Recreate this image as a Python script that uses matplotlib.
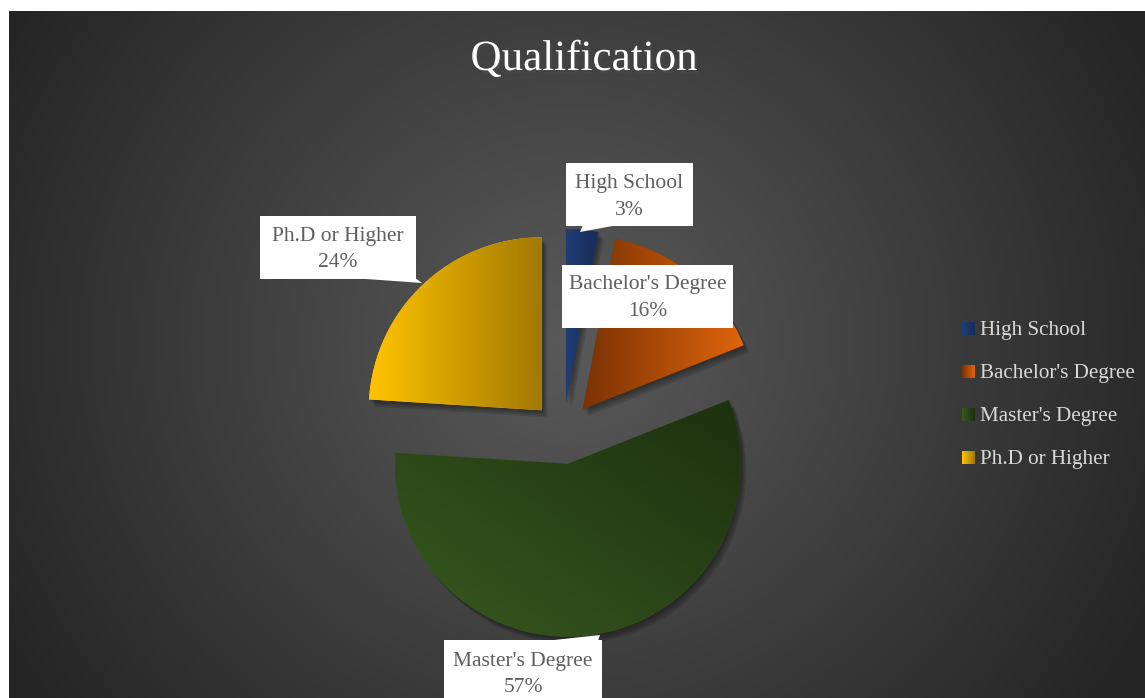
import numpy as np
import matplotlib
matplotlib.use("Agg")
import matplotlib.pyplot as plt
import matplotlib.patheffects as pe
from matplotlib.patches import Rectangle, Polygon
from matplotlib.colors import to_rgb

# ---- data ----
categories = ["High School", "Bachelor's Degree", "Master's Degree", "Ph.D or Higher"]
shares = [3, 16, 57, 24]
title = "Qualification"

# gradient end colours per slice (start, end) and gradient direction (dx, dy)
grad_start = ["#203d74", "#7a3204", "#38591f", "#ffc400"]
grad_end = ["#172c58", "#e0650c", "#1c300f", "#a27800"]
grad_dir = [(1, 0), (1, 0), (1, 1), (1, 0)]

W, H = 1145, 698
FONT = "Liberation Serif"

fig = plt.figure(figsize=(W / 100, H / 100), dpi=100)
fig.patch.set_facecolor("white")

# ---- background panel with a radial gradient (pixel coordinates) ----
bg = fig.add_axes([0, 0, 1, 1], zorder=0)
bg.set_xlim(0, W)
bg.set_ylim(H, 0)
bg.axis("off")
x0, y0 = 9, 11
yy, xx = np.mgrid[y0:H, x0:W]
d = np.hypot(xx - 570, (yy - 340) * 1.05) / 650.0
d = np.clip(d, 0, 1)
g = (0x5a - d * (0x5a - 0x25)) / 255.0
bg.imshow(np.dstack([g, g, g]), extent=(x0, W, H, y0), interpolation="bilinear",
          aspect="auto")

# ---- pie ----
cx, cy, R = 563, 433, 173  # centre and radius in pixels
half = 262
pie_ax = fig.add_axes([(cx - half) / W, (H - cy - half) / H, 2 * half / W, 2 * half / H],
                      zorder=1)
pie_ax.set_xlim(-half / R, half / R)
pie_ax.set_ylim(-half / R, half / R)
pie_ax.axis("off")
pie_ax.patch.set_alpha(0)

wedges, _ = pie_ax.pie(shares, radius=1, startangle=90, counterclock=False,
                       explode=[0.18] * len(shares),
                       colors=grad_start,
                       wedgeprops=dict(linewidth=0))

# soft drop shadow built from a few faint offset copies
soft_shadow = [pe.SimplePatchShadow(offset=(o, -o * 1.3), shadow_rgbFace="black",
                                    alpha=0.11) for o in (1, 2, 3, 4)]
for w, c0, c1, (dx, dy) in zip(wedges, grad_start, grad_end, grad_dir):
    w.set_path_effects(soft_shadow + [pe.Normal()])
    ext = w.get_path().get_extents()
    n = 200
    gx, gy = np.meshgrid(np.linspace(0, 1, n), np.linspace(0, 1, n))
    t = (gx * dx + gy * dy) / (abs(dx) + abs(dy))
    a, b = np.array(to_rgb(c0)), np.array(to_rgb(c1))
    img = a[None, None, :] + t[..., None] * (b - a)[None, None, :]
    im = pie_ax.imshow(img, extent=(ext.x0, ext.x1, ext.y0, ext.y1), origin="lower",
                       interpolation="bilinear", zorder=w.get_zorder() + 0.1)
    im.set_clip_path(w)
pie_ax.set_xlim(-half / R, half / R)
pie_ax.set_ylim(-half / R, half / R)

# ---- overlay in pixel coordinates: title, callouts, legend ----
ov = fig.add_axes([0, 0, 1, 1], zorder=2)
ov.set_xlim(0, W)
ov.set_ylim(H, 0)
ov.axis("off")
ov.patch.set_alpha(0)

ov.text(584, 70, title, ha="center", va="baseline", fontsize=31, family=FONT,
        color="white",
        path_effects=[pe.withSimplePatchShadow(offset=(1.5, -2), alpha=0.5)])

# callout boxes: (left, top, right, bottom), baselines of the two lines, pointer
boxes = [
    ((566, 163, 693, 226), (188, 215), [(583, 225), (618, 225), (580, 232)]),
    ((562, 265, 733, 328), (289, 316), None),
    ((444, 640, 602, 720), (666, 692), [(545, 641), (598, 641), (600, 635)]),
    ((260, 216, 416, 279), (241, 267), [(352, 278), (415, 278), (422, 283)]),
]
label_color = "#5f5f5f"
for cat, val, (box, (b1, b2), ptr) in zip(categories, shares, boxes):
    l, t_, r, b = box
    ov.add_patch(Rectangle((l, t_), r - l, b - t_, facecolor="white", edgecolor="none"))
    if ptr is not None:
        ov.add_patch(Polygon(ptr, closed=True, facecolor="white", edgecolor="none"))
    xc = (l + r) / 2
    ov.text(xc, b1, cat, ha="center", va="baseline", fontsize=15.5, family=FONT,
            color=label_color)
    ov.text(xc, b2, f"{val}%", ha="center", va="baseline", fontsize=15.5, family=FONT,
            color=label_color)

# legend
leg_rows = [329, 372, 415, 458]
for cat, c0, c1, y in zip(categories, grad_start, grad_end, leg_rows):
    a, b = np.array(to_rgb(c0)), np.array(to_rgb(c1))
    tt = np.linspace(0, 1, 20)
    img = (a[None, None, :] + tt[None, :, None] * (b - a)[None, None, :])
    img = np.repeat(img, 2, axis=0)
    ov.imshow(img, extent=(962, 975, y + 6.5, y - 6.5), interpolation="bilinear",
              aspect="auto", zorder=3)
    ov.text(980, y + 6, cat, ha="left", va="baseline", fontsize=15.2, family=FONT,
            color="#d9d9d9")
ov.set_xlim(0, W)
ov.set_ylim(H, 0)

fig.savefig("out.png", dpi=100, facecolor=fig.get_facecolor())
